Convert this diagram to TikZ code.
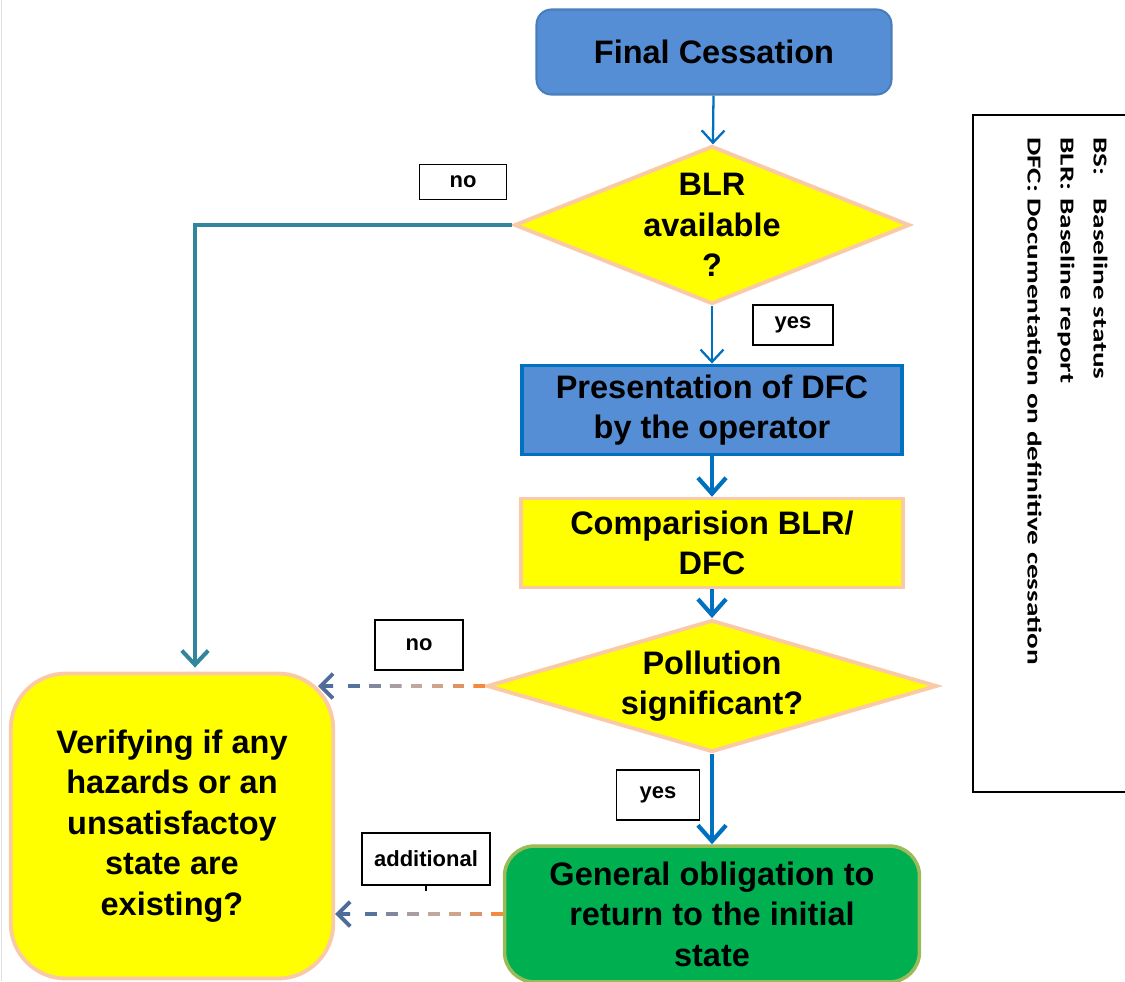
\documentclass[tikz,border=0pt]{standalone}
\usepackage{fontspec}
\setmainfont{Liberation Sans}
\newfontfamily\legendfont{Carlito}
\usetikzlibrary{arrows.meta,calc,shapes.geometric,positioning}

\definecolor{boxblue}{HTML}{558ED5}
\definecolor{edgeblue}{HTML}{4A7EBB}
\definecolor{arrowblue}{HTML}{0070C0}
\definecolor{peach}{HTML}{FAC9A6}
\definecolor{lineteal}{HTML}{31859C}
\definecolor{okgreen}{HTML}{00B050}
\definecolor{greenedge}{HTML}{9BBB59}
\definecolor{dashorange}{HTML}{F38A3E}
\definecolor{dashblue}{HTML}{4F6D9A}
\definecolor{pureyellow}{rgb}{1,1,0}

\tikzset{
  flowtext/.style={font=\bfseries\fontsize{18.5}{23}\selectfont, align=center},
  startbox/.style={flowtext, draw=edgeblue, line width=1.2pt, fill=boxblue,
    rounded corners=0.3cm, minimum width=7.1cm, minimum height=1.7cm},
  actbox/.style={flowtext, draw=arrowblue, line width=2.2pt, fill=boxblue,
    minimum width=7.6cm, minimum height=1.78cm, inner sep=0pt},
  yellowbox/.style={flowtext, draw=peach, line width=2pt, fill=pureyellow,
    minimum width=7.64cm, minimum height=1.78cm, inner sep=0pt},
  decision/.style={diamond, flowtext, draw=peach, line width=2.2pt,
    fill=pureyellow, inner sep=0pt},
  endbox/.style={flowtext, draw=greenedge, line width=2pt, fill=okgreen,
    rounded corners=0.6cm, minimum width=8.3cm, minimum height=2.72cm, inner sep=0pt},
  checkbox/.style={flowtext, draw=peach, line width=2.2pt, fill=pureyellow,
    rounded corners=1.1cm, minimum width=6.45cm, minimum height=6.1cm, inner sep=0pt},
  tag/.style={draw, line width=0.9pt, fill=white,
    font=\bfseries\fontsize{12.5}{14}\selectfont, inner sep=0pt},
  flow/.style={draw=arrowblue, line width=1.3pt,
    -{Straight Barb[length=7pt,width=13pt]}},
  bigflow/.style={draw=arrowblue, line width=2.4pt,
    -{Straight Barb[length=9pt,width=16pt]}},
}

% dashed arrow fading from orange to blue
\newcommand{\fadearrow}[2]{%
  \foreach \i/\a/\b in {0/100/100,1/84/88,2/66/72,3/50/66,4/34/72,5/17/85,6/0/96}{
    \pgfmathsetmacro{\fa}{\i*0.125}
    \pgfmathsetmacro{\fb}{\i*0.125+0.07}
    \draw[line width=2.2pt, color={dashorange!\a!dashblue!\b!white}]
      ($(#1)!\fa!(#2)$) -- ($(#1)!\fb!(#2)$);
  }
  \draw[line width=2.2pt, dashblue, -{Straight Barb[length=7pt,width=14pt]}]
    ($(#1)!0.91!(#2)$) -- (#2);
}

\begin{document}
\begin{tikzpicture}[x=0.02cm, y=-0.02cm]
    \useasboundingbox (0,0) rectangle (1125,981);
    \fill[white] (0,0) rectangle (1125,981);
    \clip (0,0) rectangle (1125,981);
    \draw[gray!25] (1,0) -- (1,981);

    % Flow column.
    \node[startbox] (final) at (714,52) {Final Cessation};
    \node[decision, minimum width=7.7cm, minimum height=3.08cm, aspect=2.5]
        (blr) at (712,225) {BLR\\available\\?};
    \node[actbox] (pres) at (712,410) {Presentation of DFC\\by the operator};
    \node[yellowbox] (comp) at (712,543) {Comparision BLR/\\DFC};
    \node[decision, minimum width=9cm, minimum height=2.64cm, aspect=3.4]
        (poll) at (712,686) {Pollution\\significant?};
    \node[endbox] (green) at (712,914) {General obligation to\\return to the initial\\state};
    \node[checkbox] (verify) at (172,826) {Verifying if any\\hazards or an\\unsatisfactoy\\state are\\existing?};

    % Answer tags.
    \node[tag, minimum width=1.74cm, minimum height=0.7cm] (no1) at (463,182) {no};
    \node[tag, minimum width=1.6cm, minimum height=0.8cm] (yes1) at (793,325) {yes};
    \node[tag, minimum width=1.76cm, minimum height=1cm] (no2) at (419,645) {no};
    \node[tag, minimum width=1.66cm, minimum height=1cm] (yes2) at (658,795) {yes};
    \node[tag, minimum width=2.56cm, minimum height=1.04cm] (add) at (426,859) {additional};
    \draw[line width=1.2pt] (add.south) -- ++(0,5);

    % Connectors.
    \draw[flow] (final) -- (blr);
    \draw[flow] (blr) -- (pres);
    \draw[bigflow] (pres) -- (comp);
    \draw[bigflow] (comp) -- (poll);
    \draw[bigflow] (poll) -- (green);
    \draw[lineteal, line width=2.3pt, -{Straight Barb[length=8pt,width=15pt]}]
        (blr.west) -| ($(verify.north)+(23,-4)$);
    \coordinate (noend) at (318,686);
    \fadearrow{poll.west}{noend}
    \fadearrow{green.west}{verify.east |- green.west}

    % Legend.
    \draw[line width=1.6pt] (973,115) rectangle (1140,792);
    \node[anchor=north west, rotate=-90, inner sep=0pt] (legend) at (1117,137)
        {\scalebox{1}[0.68]{\legendfont\bfseries\fontsize{16.6}{27.6}\selectfont
        \begin{tabular}{@{}l@{\hspace{3.5pt}}l@{}}
        BS: & Baseline status\\
        BLR: & Baseline report\\
        DFC: & Documentation on definitive cessation
        \end{tabular}}};
\end{tikzpicture}
\end{document}
